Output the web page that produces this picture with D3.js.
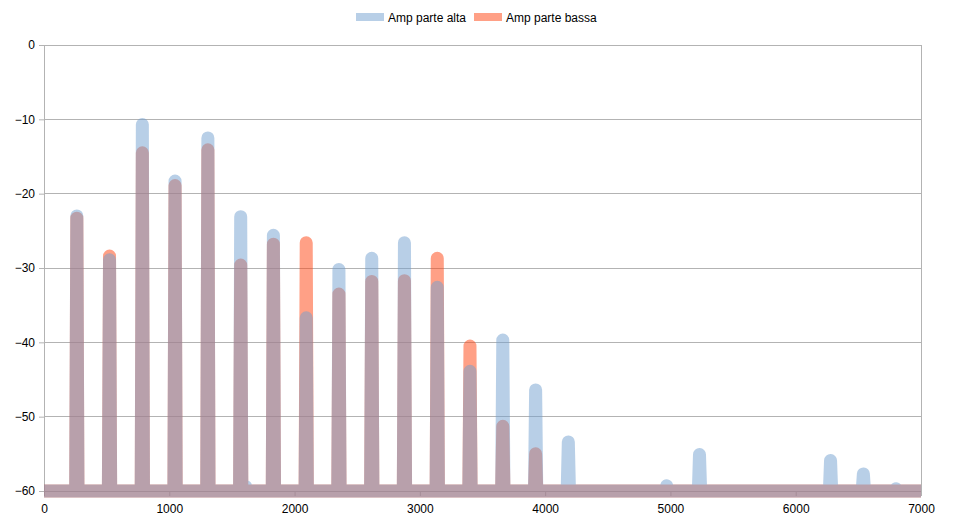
<!DOCTYPE html>
<html>
<head>
<meta charset="utf-8">
<script src="https://cdn.jsdelivr.net/npm/d3@7"></script>
<style>
  html, body { margin: 0; padding: 0; background: #fff; }
  svg { display: block; font-family: "Liberation Sans", Arial, sans-serif; }
</style>
</head>
<body>
<svg id="chart" width="954" height="524"></svg>
<script>
// ---- data ----
const peakFreqs = [262, 523, 785, 1046, 1308, 1570, 1610, 1831, 2093, 2354, 2616, 2877, 3139, 3400, 3662, 3924, 4185, 4970, 5232, 6278, 6540, 6801];
const ampAlta   = [-23.0, -28.9, -10.7, -18.3, -12.5, -23.1, -59.4, -25.6, -36.7, -30.2, -28.7, -26.6, -32.6, -43.9, -39.7, -46.4, -53.4, -59.3, -55.1, -55.9, -57.7, -59.7];
const ampBassa  = [-23.3, -28.4, -14.5, -18.9, -14.1, -29.6, -60, -26.8, -26.6, -33.5, -31.8, -31.7, -28.7, -40.5, -51.3, -55.0, -60, -60, -60, -60, -60, -60];
const seriesNames = ["Amp parte alta", "Amp parte bassa"];
const xTicks = [0, 1000, 2000, 3000, 4000, 5000, 6000, 7000];
const yTicks = [0, -10, -20, -30, -40, -50, -60];
const xDomain = [0, 7000];
const yDomain = [-60, 0];
const floorValue = -60;
const halfBin = 9; // Hz either side of a spectral line

// ---- layout ----
const svg = d3.select("#chart");
const mLeft = 44, mRight = 921, mTop = 45, mBottom = 491;
const x = d3.scaleLinear().domain(xDomain).range([mLeft, mRight]);
const y = d3.scaleLinear().domain(yDomain).range([mBottom, mTop]);

const gridColor = "#b3b3b3";
const colAlta = "#729fcf", colBassa = "#ff420e";

// gridlines
svg.append("g").selectAll("line").data(yTicks).join("line")
  .attr("x1", mLeft).attr("x2", mRight)
  .attr("y1", d => y(d)).attr("y2", d => y(d))
  .attr("stroke", gridColor).attr("stroke-width", 1)
  .attr("shape-rendering", "crispEdges");

// right border
svg.append("line").attr("x1", mRight).attr("x2", mRight).attr("y1", mTop).attr("y2", mBottom)
  .attr("stroke", gridColor).attr("shape-rendering", "crispEdges");

// axes
const yAxis = d3.axisLeft(y).tickValues(yTicks).tickSize(5).tickPadding(4).tickFormat(d3.format("d"));
const gy = svg.append("g").attr("transform", `translate(${mLeft},0)`).call(yAxis);
const xAxis = d3.axisBottom(x).tickValues(xTicks).tickSize(5).tickPadding(6).tickFormat(d3.format("d"));
const gx = svg.append("g").attr("transform", `translate(0,${mBottom})`).call(xAxis);
[gx, gy].forEach(g => {
  g.select(".domain").attr("stroke", gridColor);
  g.selectAll(".tick line").attr("stroke", gridColor);
  g.selectAll(".tick text").attr("fill", "#000").attr("font-size", 12)
    .attr("font-family", "Liberation Sans, Arial, sans-serif");
});
gx.selectAll(".tick text").attr("dy", "0.95em");

// build line points from peaks
function buildPoints(vals) {
  const pts = [[xDomain[0], floorValue]];
  peakFreqs.forEach((f, i) => {
    pts.push([f - halfBin, floorValue]);
    pts.push([f, vals[i]]);
    pts.push([f + halfBin, floorValue]);
  });
  pts.push([xDomain[1], floorValue]);
  return pts;
}
const line = d3.line().x(d => x(d[0])).y(d => y(d[1]));

// orange first, blue on top
[[ampBassa, colBassa], [ampAlta, colAlta]].forEach(([vals, col]) => {
  svg.append("path")
    .datum(buildPoints(vals))
    .attr("d", line)
    .attr("fill", "none")
    .attr("stroke", col)
    .attr("stroke-opacity", 0.5)
    .attr("stroke-width", 13)
    .attr("stroke-linejoin", "round")
    .attr("stroke-linecap", "butt");
});

// legend
const legend = svg.append("g");
const legendItems = [
  { name: seriesNames[0], col: colAlta, sx: 356, tx: 388 },
  { name: seriesNames[1], col: colBassa, sx: 474, tx: 506 }
];
legendItems.forEach(it => {
  legend.append("rect").attr("x", it.sx).attr("y", 13).attr("width", 28).attr("height", 8)
    .attr("fill", it.col).attr("fill-opacity", 0.5);
  legend.append("text").attr("x", it.tx).attr("y", 21.5).attr("font-size", 12)
    .attr("fill", "#000").text(it.name);
});
</script>
</body>
</html>
